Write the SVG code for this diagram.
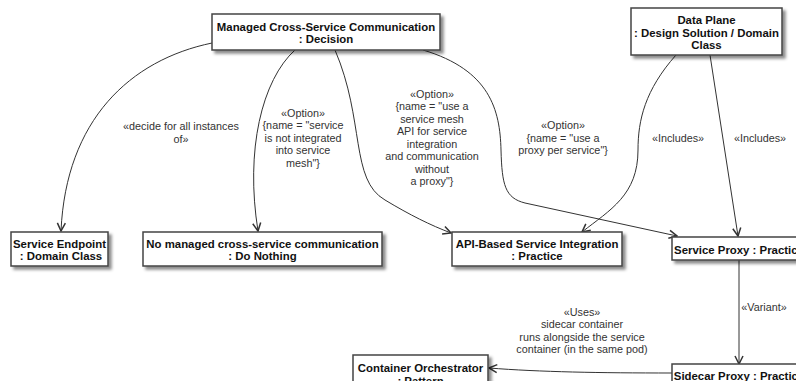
<svg xmlns="http://www.w3.org/2000/svg" width="796" height="381" viewBox="0 0 796 381">
<defs>
<filter id="sh" x="-10%" y="-20%" width="130%" height="160%">
<feDropShadow dx="3" dy="3" stdDeviation="1.5" flood-color="#000" flood-opacity="0.45"/>
</filter>
<marker id="arr" viewBox="0 0 10 10" refX="9" refY="5" markerWidth="10" markerHeight="10" markerUnits="userSpaceOnUse" orient="auto">
<path d="M1,1 L9,5 L1,9" fill="none" stroke="#333" stroke-width="1.5"/>
</marker>
</defs>
<style>
.box{fill:#fff;stroke:#444;stroke-width:1.5;filter:url(#sh)}
.nt{font-family:"Liberation Sans",Arial,sans-serif;font-size:11.4px;font-weight:bold;fill:#111;text-anchor:middle}
.lb{font-family:"Liberation Sans",Arial,sans-serif;font-size:10.8px;fill:#333;text-anchor:middle}
.e{fill:none;stroke:#333;stroke-width:1;marker-end:url(#arr)}
</style>
<rect width="796" height="381" fill="#fff"/>
<g id="connectors">
<path class="e" d="M212,43 C130,60 66,120 61,231"/>
<path class="e" d="M295,50 C262,80 245,150 258,231"/>
<path class="e" d="M335,50 C365,120 350,180 385,200 C410,215 430,225 451,233"/>
<path class="e" d="M423,50 C490,70 500,110 501,150 C502,185 505,198 525,203 L677,236"/>
<path class="e" d="M676,55 C645,90 638,120 638,150 C638,195 610,210 582,232"/>
<path class="e" d="M710,55 L738,236"/>
<path class="e" d="M739,260 L739,364"/>
<path class="e" d="M672,373 C600,373 540,372 489,368"/>
<text class="lb"><tspan x="181" y="129.5">«decide for all instances</tspan><tspan x="181" y="142.5">of»</tspan></text>
<text class="lb"><tspan x="303" y="116.5">«Option»</tspan><tspan x="303" y="129">{name = "service</tspan><tspan x="303" y="141.5">is not integrated</tspan><tspan x="303" y="154">into service</tspan><tspan x="303" y="166.5">mesh"}</tspan></text>
<text class="lb"><tspan x="432" y="97.5">«Option»</tspan><tspan x="432" y="110">{name = "use a</tspan><tspan x="432" y="122.5">service mesh</tspan><tspan x="432" y="135">API for service</tspan><tspan x="432" y="147.5">integration</tspan><tspan x="432" y="160">and communication</tspan><tspan x="432" y="172.5">without</tspan><tspan x="432" y="185">a proxy"}</tspan></text>
<text class="lb"><tspan x="563" y="129">«Option»</tspan><tspan x="563" y="141.5">{name = "use a</tspan><tspan x="563" y="154">proxy per service"}</tspan></text>
<text class="lb" x="678" y="141.5">«Includes»</text>
<text class="lb" x="760" y="141.5">«Includes»</text>
<text class="lb" x="764" y="310.5">«Variant»</text>
<text class="lb"><tspan x="582" y="315.5">«Uses»</tspan><tspan x="582" y="328">sidecar container</tspan><tspan x="582" y="340.5">runs alongside the service</tspan><tspan x="582" y="353">container (in the same pod)</tspan></text>
</g>
<g id="decision">
<rect class="box" x="212" y="14" width="228" height="36"/>
<text class="nt"><tspan x="326" y="30.5">Managed Cross-Service Communication</tspan><tspan x="326" y="43">: Decision</tspan></text>
</g>
<g id="dataplane">
<rect class="box" x="631" y="8" width="151" height="47"/>
<text class="nt"><tspan x="706.5" y="24">Data Plane</tspan><tspan x="706.5" y="36.5">: Design Solution / Domain</tspan><tspan x="706.5" y="49">Class</tspan></text>
</g>
<g id="serviceendpoint">
<rect class="box" x="11" y="232" width="97" height="34"/>
<text class="nt"><tspan x="59.5" y="247.5">Service Endpoint</tspan><tspan x="61" y="260">: Domain Class</tspan></text>
</g>
<g id="nomanaged">
<rect class="box" x="143" y="232" width="239" height="34"/>
<text class="nt"><tspan x="262.5" y="247.5">No managed cross-service communication</tspan><tspan x="262.5" y="260">: Do Nothing</tspan></text>
</g>
<g id="apibased">
<rect class="box" x="452" y="232" width="170" height="34"/>
<text class="nt"><tspan x="537" y="247.5">API-Based Service Integration</tspan><tspan x="537" y="260">: Practice</tspan></text>
</g>
<g id="serviceproxy">
<rect class="box" x="672" y="237" width="134" height="23"/>
<text class="nt" x="739" y="253.5">Service Proxy : Practice</text>
</g>
<g id="sidecarproxy">
<rect class="box" x="672" y="364" width="134" height="23"/>
<text class="nt" x="739" y="380">Sidecar Proxy : Practice</text>
</g>
<g id="orchestrator">
<rect class="box" x="353" y="355" width="135" height="35"/>
<text class="nt"><tspan x="420.5" y="372">Container Orchestrator</tspan><tspan x="420.5" y="384.5">: Pattern</tspan></text>
</g>
</svg>
